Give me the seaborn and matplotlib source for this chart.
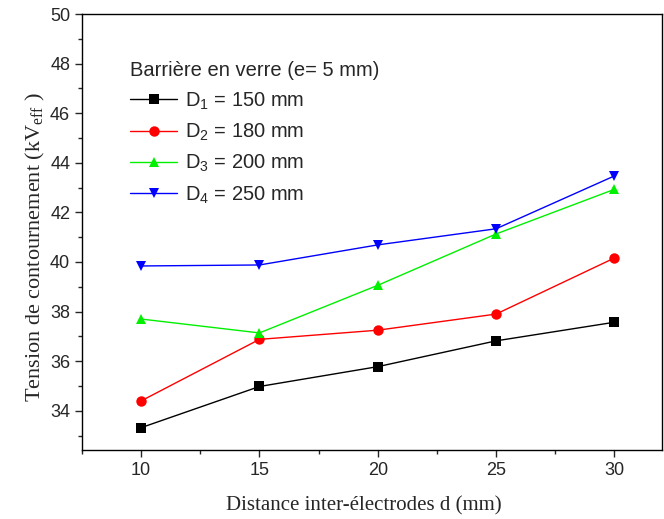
import matplotlib
matplotlib.use("Agg")
import matplotlib.pyplot as plt
import seaborn as sns
import pandas as pd
from matplotlib.ticker import MultipleLocator

# Distance between electrodes (mm)
distance = [10, 15, 20, 25, 30]

# Flashover voltage (kV eff) for each barrier position
d1_150 = [33.32, 34.98, 35.78, 36.82, 37.57]
d2_180 = [34.40, 36.88, 37.25, 37.90, 40.16]
d3_200 = [37.70, 37.14, 39.06, 41.13, 42.93]
d4_250 = [39.84, 39.88, 40.69, 41.34, 43.47]

series_labels = [r"D$_{\mathsf{1}}$ = 150 mm", r"D$_{\mathsf{2}}$ = 180 mm",
                 r"D$_{\mathsf{3}}$ = 200 mm", r"D$_{\mathsf{4}}$ = 250 mm"]
series_values = [d1_150, d2_180, d3_200, d4_250]
colors = ["#000000", "#ff0000", "#00f000", "#0000ff"]
markers = ["s", "o", "^", "v"]

sns.set_style("ticks")
plt.rcParams["font.family"] = ["Liberation Sans", "DejaVu Sans"]
plt.rcParams["mathtext.fontset"] = "custom"
plt.rcParams["mathtext.rm"] = "Liberation Serif"
plt.rcParams["mathtext.sf"] = "Liberation Sans"

frames = []
for lab, vals in zip(series_labels, series_values):
    frames.append(pd.DataFrame({"d": distance, "U": vals, "serie": lab}))
df = pd.concat(frames, ignore_index=True)

fig = plt.figure(figsize=(6.64, 5.19), dpi=100)
ax = fig.add_axes([0.1235, 0.133, 0.873, 0.840])

sns.lineplot(data=df, x="d", y="U", hue="serie", style="serie",
             palette=colors, markers=markers, dashes=False,
             markersize=7.5, markeredgewidth=0, linewidth=1.0, ax=ax)

ax.set_xlim(7.5, 32)
ax.set_ylim(32.42, 50)
ax.xaxis.set_major_locator(MultipleLocator(5))
ax.xaxis.set_minor_locator(MultipleLocator(2.5))
ax.yaxis.set_major_locator(MultipleLocator(2))
ax.yaxis.set_minor_locator(MultipleLocator(1))
ax.tick_params(axis="both", which="major", direction="out", length=5,
               width=1, labelsize=13, top=False, right=False)
ax.tick_params(axis="both", which="minor", direction="out", length=3,
               width=1, top=False, right=False)
ax.yaxis.set_ticks([34, 36, 38, 40, 42, 44, 46, 48, 50])
for sp in ax.spines.values():
    sp.set_linewidth(1.0)
    sp.set_color("black")

ax.set_xlabel("Distance inter-électrodes d (mm)", fontsize=15,
              family="Liberation Serif")
ax.xaxis.set_label_coords(0.486, -0.105)
ax.set_ylabel(r"Tension de contournement (kV$_{\mathrm{eff}}$ )", fontsize=16,
              family="Liberation Serif")
ax.yaxis.set_label_coords(-0.06, 0.466)

leg = ax.legend(title="Barrière en verre (e= 5 mm)", loc="upper left",
                bbox_to_anchor=(0.069, 0.91), frameon=False, fontsize=14.5,
                title_fontsize=14.5, handlelength=2.35, handletextpad=0.4,
                labelspacing=0.5, borderaxespad=0)
leg._legend_box.align = "left"

fig.savefig("out.png", dpi=100)
